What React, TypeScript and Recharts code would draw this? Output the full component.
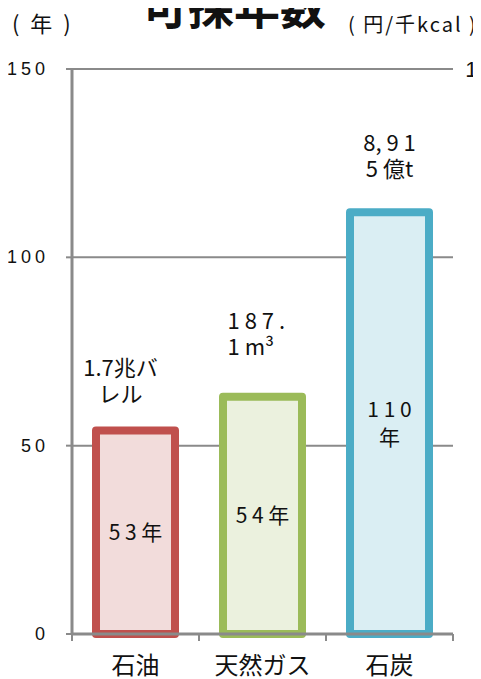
import { BarChart, Bar, XAxis, YAxis, CartesianGrid, Cell, LabelList } from "recharts"

const categories = ["石油", "天然ガス", "石炭"]
const reserveYears = [54, 63, 112]
const yearLabels = ["5 3 年", "5 4 年", "1 1 0\n年"]
const reserveLabels = ["1.7兆バ\nレル", "1 8 7 .\n1 m³", "8, 9 1\n5 億t"]
const leftTicks = [0, 50, 100, 150]
const rightTicks = [20, 40, 60, 80, 100]

const strokeColors = ["#c0504d", "#9bbb59", "#4bacc6"]
const fillColors = ["#f2dcdb", "#ebf1de", "#daeef3"]

const FONT = "'Noto Sans CJK JP', 'Noto Sans', sans-serif"
const NUM_FONT = "'Liberation Sans', Arial, sans-serif"
const GRAY = "#8a8a8a"
const BAND = 381 / 3

// label placement tweaks, one per bar
const reserveNudge = [
  { dx: -15, above: 29, anchor: "middle" },
  { dx: -35, above: 42, anchor: "start" },
  { dx: 0, above: 35, anchor: "middle" },
]

const data = categories.map((category, i) => ({
  category,
  years: reserveYears[i],
  yearsText: yearLabels[i],
  reserve: reserveLabels[i],
}))

function ReserveLabel(props: any) {
  const vb = props.viewBox ?? {}
  const x = props.x ?? vb.x
  const y = props.y ?? vb.y
  const width = props.width ?? vb.width
  const value = String(props.value)
  const n = reserveNudge[Math.max(0, reserveLabels.indexOf(value))]
  const lines = value.split("\n")
  const cx = x + width / 2 + n.dx
  const base = y - n.above
  return (
    <g>
      {lines.map((l, k) => (
        <text
          key={k}
          x={cx}
          y={base - (lines.length - 1 - k) * 26}
          textAnchor={n.anchor}
          fontSize={22}
          fontFamily={FONT}
          fill="#111"
        >
          {l}
        </text>
      ))}
    </g>
  )
}

function YearsLabel(props: any) {
  const vb = props.viewBox ?? {}
  const x = props.x ?? vb.x
  const y = props.y ?? vb.y
  const width = props.width ?? vb.width
  const height = props.height ?? vb.height
  const lines = String(props.value).split("\n")
  const cx = x + width / 2
  const cy = y + height / 2
  return (
    <g>
      {lines.map((l, k) => (
        <text
          key={k}
          x={cx}
          y={cy + 8 + (k - (lines.length - 1) / 2) * 28}
          textAnchor="middle"
          fontSize={21}
          fontFamily={FONT}
          fill="#111"
        >
          {l}
        </text>
      ))}
    </g>
  )
}

function BarShape(props: any) {
  const { x, y, width, height, fill, stroke } = props
  return (
    <rect
      x={x}
      y={y}
      width={width}
      height={height}
      fill={fill}
      stroke={stroke}
      strokeWidth={8}
      strokeLinejoin="round"
    />
  )
}

function LeftTick(props: any) {
  const { x, y, payload } = props
  return (
    <text x={x - 15} y={y + 6} textAnchor="end" fontSize={18} fontFamily={NUM_FONT} letterSpacing={4} fill="#111">
      {payload.value}
    </text>
  )
}

function RightTick(props: any) {
  const { y, payload } = props
  // labels run past the right edge of the picture, as in the source
  return (
    <text x={494} y={y + 8} textAnchor="end" fontSize={22} fontFamily={NUM_FONT} fill="#111">
      {payload.value}
    </text>
  )
}

function CategoryTick(props: any) {
  const { x, y, payload, index } = props
  return (
    <g>
      <line x1={x - BAND / 2} x2={x - BAND / 2} y1={y} y2={y + 7} stroke={GRAY} strokeWidth={2} />
      {index === categories.length - 1 && (
        <line x1={x + BAND / 2} x2={x + BAND / 2} y1={y} y2={y + 7} stroke={GRAY} strokeWidth={2} />
      )}
      <text x={x} y={y + 40} textAnchor="middle" fontSize={24} fontFamily={FONT} fill="#111">
        {payload.value}
      </text>
    </g>
  )
}

export default function App() {
  return (
    <div style={{ position: "relative", width: 473, height: 671 }}>
      <BarChart
        width={473}
        height={671}
        data={data}
        margin={{ top: 61, right: 0, bottom: 0, left: 0 }}
        style={{ overflow: "visible" }}
      >
        <CartesianGrid yAxisId="left" vertical={false} stroke={GRAY} strokeWidth={2} />
        <XAxis
          dataKey="category"
          height={45}
          tickSize={0}
          tickMargin={0}
          tickLine={false}
          axisLine={{ stroke: GRAY, strokeWidth: 3 }}
          tick={<CategoryTick />}
          interval={0}
        />
        <YAxis
          yAxisId="left"
          width={64}
          domain={[0, 150]}
          ticks={leftTicks}
          axisLine={{ stroke: GRAY, strokeWidth: 3 }}
          tickLine={{ stroke: GRAY, strokeWidth: 2 }}
          tick={<LeftTick />}
        />
        <YAxis
          yAxisId="right"
          orientation="right"
          dataKey="years"
          width={28}
          type="number"
          domain={[-20, 100]}
          allowDataOverflow
          ticks={rightTicks}
          interval={0}
          axisLine={false}
          tickLine={false}
          tick={<RightTick />}
        />
        <Bar yAxisId="left" dataKey="years" barSize={79} shape={<BarShape />} isAnimationActive={false}>
          {data.map((d, i) => (
            <Cell key={d.category} fill={fillColors[i]} stroke={strokeColors[i]} />
          ))}
          <LabelList dataKey="reserve" content={<ReserveLabel />} />
          <LabelList dataKey="yearsText" content={<YearsLabel />} />
        </Bar>
      </BarChart>
      <svg
        width={481}
        height={679}
        style={{ position: "absolute", left: -8, top: -8, pointerEvents: "none", overflow: "visible" }}
      >
        <text x={234} y={24} textAnchor="middle" fontSize={46} fontWeight="bold" fontFamily={FONT} fill="#111">
          可採年数
        </text>
        <text x={12} y={32} fontSize={22} fontFamily={FONT} letterSpacing={3} fill="#111">
          ( 年 )
        </text>
        <text x={348} y={32} fontSize={20} fontFamily={FONT} letterSpacing={2} fill="#111">
          ( 円/千kcal )
        </text>
      </svg>
    </div>
  )
}
